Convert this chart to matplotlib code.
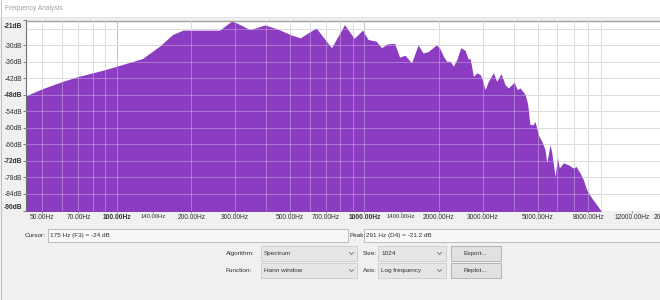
import matplotlib
matplotlib.use("Agg")
import matplotlib.pyplot as plt
from matplotlib.patches import Rectangle
from matplotlib.ticker import NullLocator, NullFormatter
import matplotlib.transforms as mtransforms

plt.rcParams['font.family'] = ['Liberation Sans', 'DejaVu Sans']

# ---------------- data ----------------
freq_hz = [43, 50.3, 60.5, 70, 80, 90, 100, 127, 149, 168, 185, 260, 291, 303, 345, 397,
           452, 501, 550, 638, 736, 831, 908, 982, 1034, 1114, 1173, 1234, 1323, 1386,
           1458, 1549, 1646, 1725, 1806, 1955, 2019, 2083, 2148, 2216, 2285, 2359, 2448,
           2548, 2628, 2669, 2753, 2841, 2929, 2976, 3069, 3164, 3314, 3421, 3560, 3695,
           3810, 4018, 4143, 4248, 4355, 4450, 4547, 4589, 4631, 4662, 4794, 4884, 5036,
           5198, 5359, 5445, 5615, 5705, 5883, 6010, 6123, 6353, 6656, 6974, 7151, 7422,
           7652, 7898, 8272, 8666, 8995, 9500]
level_db = [-48.3, -45.7, -43.1, -41.3, -40.0, -38.8, -37.6, -34.8, -30.3, -26.1, -24.5,
            -24.5, -21.2, -21.8, -24.3, -22.6, -24.3, -26.1, -27.3, -23.7, -30.9, -22.5,
            -27.5, -24.5, -27.9, -28.5, -30.9, -29.5, -29.3, -34.3, -33.6, -36.4, -29.9,
            -32.8, -32.3, -29.8, -31.3, -34.0, -35.8, -35.8, -37.6, -35.2, -30.9, -31.8,
            -35.2, -34.6, -41.3, -40.0, -40.6, -41.8, -46.1, -43.1, -40.0, -43.1, -40.3,
            -44.3, -45.5, -43.4, -46.1, -45.5, -46.7, -47.9, -50.9, -53.4, -57.0, -58.8,
            -58.8, -57.7, -62.5, -64.9, -67.9, -72.7, -66.1, -69.1, -77.6, -70.9, -74.6,
            -72.7, -73.4, -74.6, -74.0, -76.4, -78.8, -82.5, -85.5, -87.9, -90.0, -95.0]

grid_freqs = [50, 60, 70, 80, 90, 200, 300, 400, 500, 600, 700, 800, 900,
              2000, 3000, 4000, 5000, 6000, 7000, 8000, 9000]
major_grid_freqs = [100, 1000]
grid_db = [-24, -30, -36, -42, -48, -54, -60, -66, -72, -78, -84]

xtick_freqs = [50, 70, 100, 140, 200, 300, 500, 700, 1000, 1400, 2000, 3000, 5000,
               8000, 12000, 20000]
xtick_labels = ["50.00Hz", "70.00Hz", "100.00Hz", "140.00Hz", "200.00Hz", "300.00Hz",
                "500.00Hz", "700.00Hz", "1000.00Hz", "1400.00Hz", "2000.00Hz",
                "3000.00Hz", "5000.00Hz", "8000.00Hz", "12000.00Hz", "20000.00Hz"]
xtick_bold = [100, 1000]
xtick_small = [140, 1400]

ytick_db = [-21, -30, -36, -42, -48, -54, -60, -66, -72, -78, -84, -90]
ytick_labels = ["-21dB", "-30dB", "-36dB", "-42dB", "-48dB", "-54dB", "-60dB",
                "-66dB", "-72dB", "-78dB", "-84dB", "-90dB"]
ytick_bold = [-21, -48, -72, -90]

title = "Frequency Analysis"
cursor_text = "175 Hz (F3) = -24 dB"
peak_text = "291 Hz (D4) = -21.2 dB"
algorithm = "Spectrum"
size_text = "1024"
function = "Hann window"
axis_text = "Log frequency"

# ---------------- figure ----------------
W, H = 660, 300
fig = plt.figure(figsize=(W / 100, H / 100), dpi=100, facecolor='#f0f0f0')

ui = fig.add_axes([0, 0, 1, 1], zorder=0)
ui.set_xlim(0, W)
ui.set_ylim(H, 0)
ui.axis('off')
ui.patch.set_alpha(0)

FS = 4.8
UFS = 4.6
TXT = '#303030'

ui.add_patch(Rectangle((0, 0), W, 17, facecolor='white', edgecolor='none'))
ui.plot([0, W], [17.3, 17.3], color='#e2e2e2', lw=0.6)
ui.plot([0.5, 0.5], [0, H], color='#b8b8b8', lw=0.6)
ui.text(5, 8.8, title, fontsize=FS, color='#a0a0a0', va='center', ha='left')

purple = '#8b3cc0'

x0, x1 = 26, 697.2
ax = fig.add_axes([x0 / W, 1 - 210.5 / H, (x1 - x0) / W, 190 / H], zorder=1)
ax.set_xscale('log')
ax.set_xlim(43.0, 22050)
ax.set_ylim(-90, -21)
ax.set_facecolor('white')

ax.fill_between(freq_hz, level_db, -100, color=purple, lw=0, zorder=2)

# grid under fill (visible on white)
ax.vlines(grid_freqs, -90, -21, colors='#cdcdcd', lw=0.7, zorder=1)
ax.vlines(major_grid_freqs, -90, -21, colors='#a4a4a4', lw=0.7, zorder=1)
ax.hlines(grid_db, 43, 22050, colors='#cdcdcd', lw=0.7, zorder=1)
# grid over fill (light lavender on purple)
ax.vlines(grid_freqs + major_grid_freqs, -90, -21, colors='white', alpha=0.3,
          lw=0.7, zorder=3)
ax.hlines(grid_db, 43, 22050, colors='white', alpha=0.3, lw=0.7, zorder=3)

for s in ['right', 'bottom']:
    ax.spines[s].set_visible(False)
ax.spines['top'].set_color('#a0a0a0')
ax.spines['top'].set_linewidth(1.0)
ax.spines['left'].set_color('#707070')
ax.spines['left'].set_linewidth(0.8)

ax.xaxis.set_minor_locator(NullLocator())
ax.xaxis.set_minor_formatter(NullFormatter())
ax.set_xticks(xtick_freqs)
ax.set_xticklabels(xtick_labels)
ax.set_yticks(ytick_db)
ax.set_yticklabels(ytick_labels)

ax.tick_params(axis='x', direction='out', length=1.6, width=0.6, color='#808080',
               pad=0.9, labelsize=FS, labelcolor=TXT)
ax.tick_params(axis='y', direction='out', length=2.2, width=0.6, color='#707070',
               pad=0.4, labelsize=FS, labelcolor=TXT)

for f, lab in zip(xtick_freqs, ax.get_xticklabels()):
    if f in xtick_bold:
        lab.set_fontweight('bold')
    if f in xtick_small:
        lab.set_fontsize(4.2)
    if f == 20000:
        lab.set_transform(lab.get_transform() +
                          mtransforms.ScaledTranslation(-0.15, 0, fig.dpi_scale_trans))

for v, lab in zip(ytick_db, ax.get_yticklabels()):
    if v in ytick_bold:
        lab.set_fontweight('bold')
    if v == -21:
        lab.set_transform(lab.get_transform() +
                          mtransforms.ScaledTranslation(0, -0.048, fig.dpi_scale_trans))
    if v == -90:
        lab.set_transform(lab.get_transform() +
                          mtransforms.ScaledTranslation(0, 0.038, fig.dpi_scale_trans))

# ---------------- controls ----------------
def box(x, y, w, h, fc, ec):
    ui.add_patch(Rectangle((x, y), w, h, facecolor=fc, edgecolor=ec, lw=0.6))

def chevron(cx, cy):
    ui.plot([cx - 2, cx, cx + 2], [cy - 1, cy + 1, cy - 1], color='#707070', lw=0.6)

ui.text(25, 235.3, "Cursor:", fontsize=UFS, color=TXT, va='center', ha='left')
box(47.5, 228.5, 300, 13.5, '#f8f8f8', '#b4b4b4')
ui.text(50.5, 235.3, cursor_text, fontsize=UFS, color=TXT, va='center', ha='left')

ui.text(349.5, 235.3, "Peak:", fontsize=UFS, color=TXT, va='center', ha='left')
box(363.5, 228.5, 310, 13.5, '#f8f8f8', '#b4b4b4')
ui.text(366.5, 235.3, peak_text, fontsize=UFS, color=TXT, va='center', ha='left')

rows = [(246, 15, "Algorithm:", algorithm, "Size:", size_text, "Export..."),
        (263.3, 14.5, "Function:", function, "Axis:", axis_text, "Replot...")]
for y, h, l1, v1, l2, v2, btn in rows:
    cy = y + h / 2
    ui.text(226, cy, l1, fontsize=UFS, color=TXT, va='center', ha='left')
    box(261, y, 96, h, '#e6e6e6', '#cccccc')
    ui.text(264, cy, v1, fontsize=UFS, color=TXT, va='center', ha='left')
    chevron(351.5, cy)
    ui.text(363, cy, l2, fontsize=UFS, color=TXT, va='center', ha='left')
    box(377.7, y, 68, h, '#e6e6e6', '#cccccc')
    ui.text(381, cy, v2, fontsize=UFS, color=TXT, va='center', ha='left')
    chevron(439.5, cy)
    box(450.7, y, 50.3, h, '#e1e1e1', '#adadad')
    ui.text(475.8, cy, btn, fontsize=UFS, color=TXT, va='center', ha='center')

fig.savefig("out.png", dpi=100, facecolor=fig.get_facecolor())
